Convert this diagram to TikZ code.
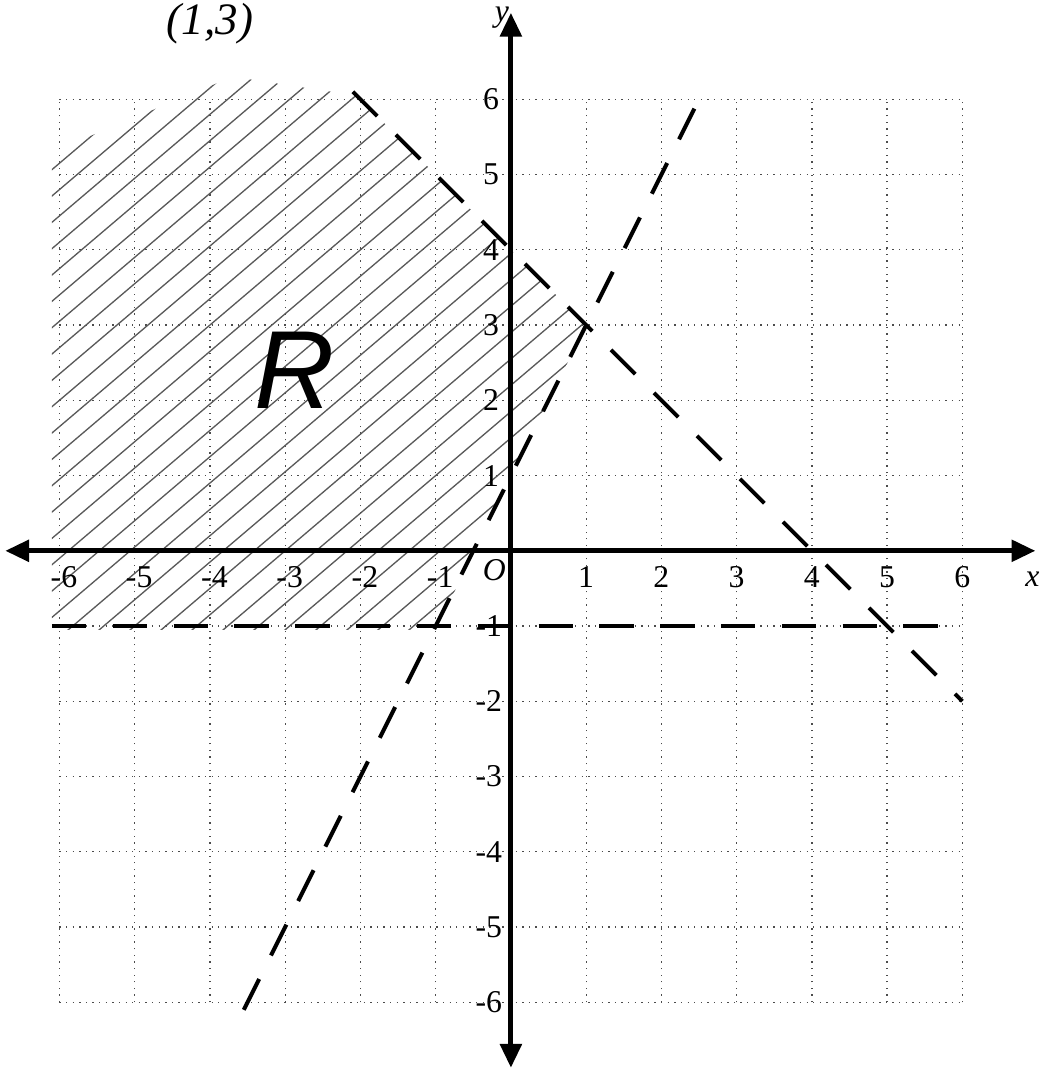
\documentclass[tikz,border=0pt]{standalone}
\usepackage{fontspec}
\setmainfont{Liberation Serif}
\newfontfamily\handfont{Liberation Sans}
\usetikzlibrary{arrows.meta}

\begin{document}
\begin{tikzpicture}[x=1cm, y=1cm]
    \tikzstyle{gridline} = [black!70, line width=0.5pt, dotted]
    \tikzstyle{axis} = [line width=1.9pt, {Triangle[length=9pt, width=8pt]}-{Triangle[length=9pt, width=8pt]}]
    \tikzstyle{boundary} = [line width=1.5pt, dash pattern=on 13pt off 10pt]
    \tikzstyle{hatch} = [black!65, line width=0.5pt]
    \tikzstyle{tick} = [font=\fontsize{12}{12}\selectfont, inner sep=0pt]

    \clip (-6.79,-6.9) rectangle (7.09,7.32);
    \draw [gridline] (-6,-6) grid (6,6);

    % shaded region R
    \begin{scope}
        \clip (-6.1,-1.05) -- (-1,-1.05) -- (1,3) -- (-2.05,6.05) -- (-3.7,6.3) -- (-6.1,5.3) -- cycle;
        \foreach \c in {-2,-1.65,...,11.6}
            \draw [hatch] (-6.3,{\c-5.355}) -- (1.2,{\c+1.02});
    \end{scope}

    % axes
    \coordinate (xl) at (-6.72,0);
    \coordinate (xr) at (6.97,0);
    \coordinate (yb) at (0,-6.87);
    \coordinate (yt) at (0,7.15);
    \draw [axis] (xl) -- (xr);
    \draw [axis] (yb) -- (yt);

    % boundary lines
    \coordinate (p1) at (-3.55,-6.1);
    \coordinate (p2) at (2.5,6);
    \coordinate (q1) at (-2.1,6.1);
    \coordinate (q2) at (6,-2);
    \coordinate (r1) at (-6.1,-1);
    \coordinate (r2) at (6,-1);
    \draw [boundary] (p1) -- (p2);
    \draw [boundary] (q1) -- (q2);
    \draw [boundary] (r1) -- (r2);

    % tick labels
    \foreach \x in {-6,...,-1}
        \node [tick] (xt\x) at (\x+0.06,-0.35) {\x};
    \foreach \x in {1,...,6}
        \node [tick] (xt\x) at (\x,-0.35) {\x};
    \foreach \y in {-6,...,-1}
        \node [tick, anchor=east] (yt\y) at (-0.11,\y) {\y};
    \foreach \y in {1,...,6}
        \node [tick, anchor=east] (yt\y) at (-0.15,\y) {\y};

    \node [tick] (orig) at (-0.22,-0.26) {\itshape O};
    \node [tick] (xlab) at (6.93,-0.38) {\itshape x};
    \node [tick] (ylab) at (-0.12,7.08) {\itshape y};

    \node [anchor=base, inner sep=0pt, font=\fontsize{17}{17}\selectfont\itshape] (pt) at (-4.0,6.86) {(1,3)};
    \node [inner sep=0pt, font=\fontsize{42}{42}\selectfont\handfont\itshape] (reg) at (-2.88,2.4) {R};
\end{tikzpicture}
\end{document}
